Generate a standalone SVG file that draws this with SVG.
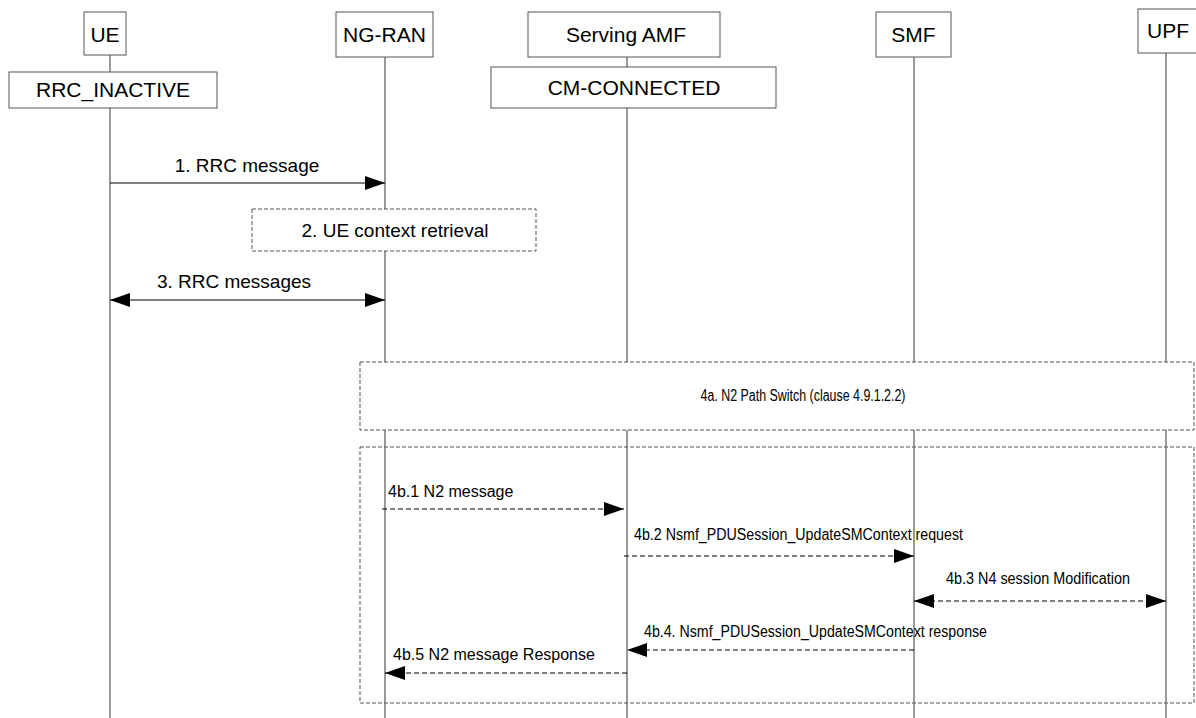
<svg xmlns="http://www.w3.org/2000/svg" width="1196" height="718" viewBox="0 0 1196 718">
<style>
text{font-family:"Liberation Sans",Arial,sans-serif;fill:#000}
.hd{font-size:21px;text-anchor:middle}
.m{font-size:19px;text-anchor:middle}
.s{font-size:16px}
.n{font-size:16px}
.box{fill:#fff;stroke:#555;stroke-width:1}
.dbox{fill:#fff;stroke:#555;stroke-width:1;stroke-dasharray:4,2}
.frame{fill:none;stroke:#555;stroke-width:1;stroke-dasharray:4,2}
.life{stroke:#555;stroke-width:1.2;fill:none}
.msg{stroke:#000;stroke-width:1;fill:none}
.dmsg{stroke:#000;stroke-width:1;fill:none;stroke-dasharray:5,3}
</style>
<defs>
<marker id="ah" viewBox="0 0 20 14" refX="20" refY="7" markerWidth="20" markerHeight="14" markerUnits="userSpaceOnUse" orient="auto-start-reverse">
<path d="M0,0 L20,7 L0,14 Z" fill="#000"/>
</marker>
</defs>
<rect width="1196" height="718" fill="#fff"/>
<g id="lifelines">
<line class="life" x1="110" y1="55" x2="110" y2="718"/>
<line class="life" x1="385" y1="57" x2="385" y2="718"/>
<line class="life" x1="627" y1="57" x2="627" y2="718"/>
<line class="life" x1="914" y1="57" x2="914" y2="718"/>
<line class="life" x1="1166" y1="53" x2="1166" y2="718"/>
</g>
<g id="UE">
<rect class="box" x="84" y="12" width="42" height="43"/>
<text class="hd" x="105" y="42" font-size="22">UE</text>
</g>
<g id="UE-state">
<rect class="box" x="9" y="72" width="208" height="36"/>
<text class="hd" x="113" y="97">RRC_INACTIVE</text>
</g>
<g id="NG-RAN">
<rect class="box" x="336" y="12" width="97" height="45"/>
<text class="hd" x="384.5" y="42">NG-RAN</text>
</g>
<g id="AMF">
<rect class="box" x="528" y="12" width="192" height="45"/>
<text class="hd" x="626" y="42">Serving AMF</text>
</g>
<g id="AMF-state">
<rect class="box" x="491" y="67" width="285" height="41"/>
<text class="hd" x="634" y="95" font-size="20">CM-CONNECTED</text>
</g>
<g id="SMF">
<rect class="box" x="876" y="12" width="75" height="45"/>
<text class="hd" x="913.5" y="42">SMF</text>
</g>
<g id="UPF">
<rect class="box" x="1138" y="9" width="64" height="44"/>
<text class="hd" x="1168" y="38">UPF</text>
</g>
<g id="step2">
<rect class="dbox" x="252" y="209" width="284" height="42"/>
<text class="m" x="395" y="237">2. UE context retrieval</text>
</g>
<g id="step4a">
<rect class="dbox" x="360" y="362" width="834" height="68"/>
<text class="n" x="803" y="401" font-size="17" text-anchor="middle" textLength="205" lengthAdjust="spacingAndGlyphs">4a. N2 Path Switch (clause 4.9.1.2.2)</text>
</g>
<g id="step4b">
<rect class="frame" x="360" y="447" width="834" height="256"/>
</g>
<g id="connectors">
<line class="msg" x1="110" y1="183" x2="385" y2="183" marker-end="url(#ah)"/>
<text class="m" x="247" y="172">1. RRC message</text>
<line class="msg" x1="110" y1="300" x2="385" y2="300" marker-start="url(#ah)" marker-end="url(#ah)"/>
<text class="m" x="234" y="288">3. RRC messages</text>
<line class="dmsg" x1="382" y1="509" x2="624" y2="509" marker-end="url(#ah)"/>
<text class="s" x="388" y="497">4b.1 N2 message</text>
<line class="dmsg" x1="624" y1="556" x2="914" y2="556" marker-end="url(#ah)"/>
<text class="n" x="634" y="540" textLength="329" lengthAdjust="spacingAndGlyphs">4b.2 Nsmf_PDUSession_UpdateSMContext request</text>
<line class="dmsg" x1="914" y1="601" x2="1166" y2="601" marker-start="url(#ah)" marker-end="url(#ah)"/>
<text class="n" x="946" y="584" textLength="184" lengthAdjust="spacingAndGlyphs">4b.3 N4 session Modification</text>
<line class="dmsg" x1="914" y1="650" x2="627" y2="650" marker-end="url(#ah)"/>
<text class="n" x="644" y="637" textLength="343" lengthAdjust="spacingAndGlyphs">4b.4. Nsmf_PDUSession_UpdateSMContext response</text>
<line class="dmsg" x1="627" y1="673" x2="385" y2="673" marker-end="url(#ah)"/>
<text class="s" x="393" y="660">4b.5 N2 message Response</text>
</g>
</svg>
